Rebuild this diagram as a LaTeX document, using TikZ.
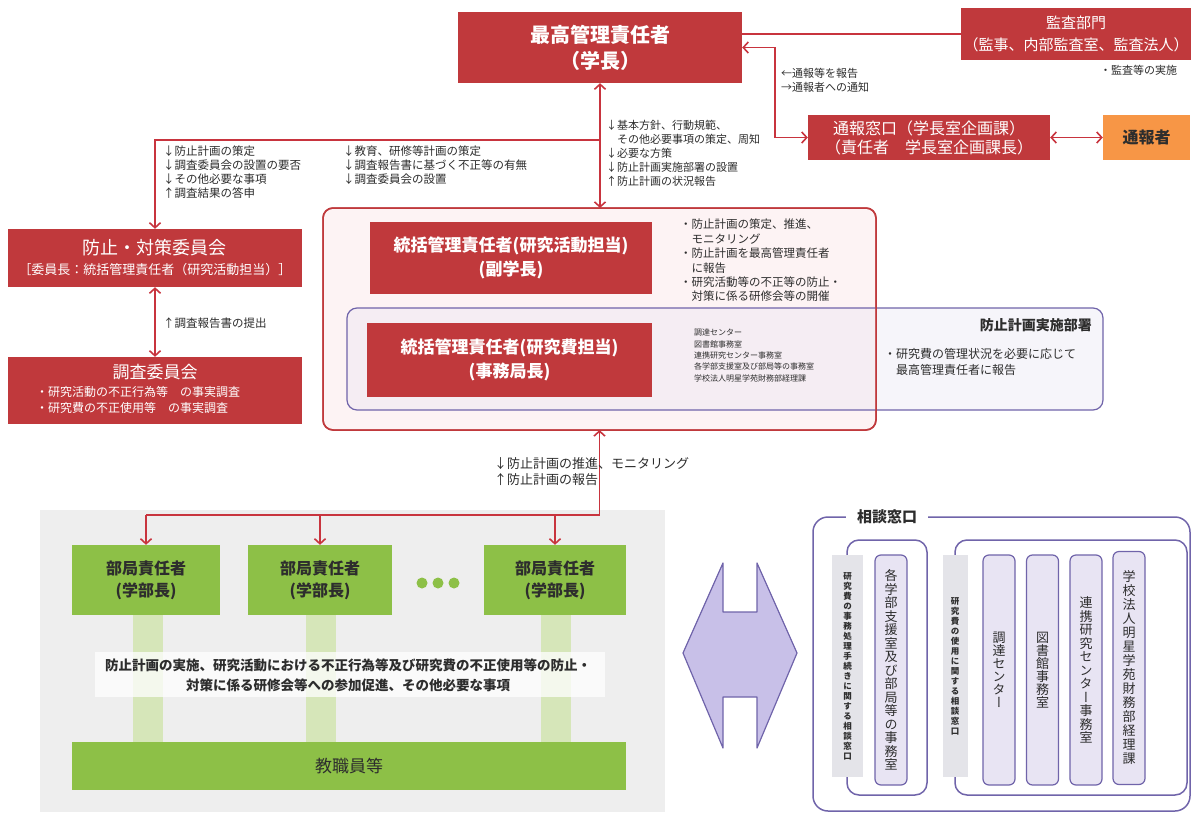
\documentclass[tikz,border=0pt]{standalone}
\usepackage{fontspec}
\setmainfont{Noto Sans CJK JP}
\newfontfamily\vjp[RawFeature=+vert]{Noto Sans CJK JP}
\usetikzlibrary{arrows.meta}
\newcommand\myfs[2]{\fontsize{#1}{#2}\selectfont}
\ExplSyntaxOn
\NewDocumentCommand \vtext { m m }
  {
    \vbox:n
      {
        \dim_set:Nn \baselineskip {#1}
        \dim_set:Nn \lineskiplimit { -\maxdimen }
        \tl_map_inline:nn {#2} { \hbox_to_wd:nn { 1em } { \hss ##1 \hss } }
      }
  }
\ExplSyntaxOff
\definecolor{cred}{RGB}{192,57,60}
\definecolor{carr}{RGB}{200,52,62}
\definecolor{txt}{RGB}{45,45,45}
\definecolor{cpink}{RGB}{253,243,244}
\definecolor{cpur}{RGB}{112,100,170}
\definecolor{clav}{RGB}{232,228,243}
\definecolor{cpurfill}{RGB}{200,192,232}
\definecolor{cgray}{RGB}{238,238,238}
\definecolor{cstrip}{RGB}{228,228,233}
\definecolor{cgreen}{RGB}{141,192,71}
\definecolor{clgreen}{RGB}{214,230,185}
\definecolor{corange}{RGB}{247,150,70}
\tikzset{
  redbox/.style={fill=cred, text=white, inner sep=0pt, align=center},
  greenbox/.style={fill=cgreen, text=txt, inner sep=0pt, align=center, font=\bfseries\myfs{16}{22}},
  labeltxt/.style={text=txt, align=left, inner sep=0pt, anchor=north west},
  cline/.style={draw=carr, line width=1.6pt},
  vtbox/.style={fill=clav, draw=cpur, line width=1.2pt, rounded corners=6pt, inner sep=0pt, text=txt, font=\vjp\myfs{13}{14}},
  vstrip/.style={fill=cstrip, inner sep=0pt, text=txt, font=\vjp\bfseries\myfs{8.5}{10}},
}
\begin{document}
\begin{tikzpicture}[x=1pt,y=-1pt, >={Straight Barb[length=5pt,width=11pt]}]
\useasboundingbox (0,0) rectangle (1192,814);
\fill[white] (0,0) rectangle (1192,814);

% ---- central big box and purple box
\node[draw=cred, line width=1.5pt, fill=cpink, rounded corners=10pt, outer sep=0pt, minimum width=553, minimum height=222] (cbox) at (599.5,319) {};
\node[draw=cpur, line width=1.2pt, fill=clav, fill opacity=0.35, rounded corners=10pt, minimum width=756, minimum height=102] (pbox) at (725,359) {};
\draw[cred, line width=1.5pt, rounded corners=10pt] (cbox.south west) rectangle (cbox.north east);

% ---- top
\node[redbox, minimum width=284, minimum height=71, font=\bfseries\myfs{20}{26}] (top) at (600,47.5) {最高管理責任者\\（学長）};
\node[redbox, minimum width=230, minimum height=52, font=\myfs{15}{22}] (audit) at (1076,34) {監査部門\\（監事、内部監査室、監査法人）};
\draw[cline] (audit.west) -- (audit.west -| top.east);
\node[labeltxt, font=\myfs{11}{14}] (audtxt) at (1100,65) {・監査等の実施};

\node[redbox, minimum width=242, minimum height=45, font=\myfs{16}{19}] (win) at (929,137.5) {通報窓口（学長室企画課）\\（責任者　学長室企画課長）};
\node[fill=corange, inner sep=0pt, minimum width=87, minimum height=45, font=\bfseries\myfs{16}{19}, text=txt] (wb) at (1146.5,137.5) {通報者};
\draw[cline,<->] (win.east) -- (wb.west);
\draw[cline,<->] (top.east) -- ++(33,0) |- (win.west);
\node[labeltxt, font=\myfs{11}{14}] (wlab) at (781,68) {←通報等を報告\\→通報者への通知};

% ---- vertical between top and center box
\draw[cline,<->] (top.south) -- (top.south |- cbox.north);
\node[labeltxt, font=\myfs{11}{14}] (clab) at (606,120) {↓基本方針、行動規範、\\　その他必要事項の策定、周知\\↓必要な方策\\↓防止計画実施部署の設置\\↑防止計画の状況報告};

% ---- committees
\node[redbox, minimum width=294, minimum height=58, font=\myfs{13}{17}] (comm) at (155,258) {{\myfs{18}{20}防止・対策委員会}\\[3pt]［委員長：統括管理責任者（研究活動担当）］};
\node[redbox, minimum width=294, minimum height=67] (inv) at (155,390.5) {};
\node[text=white, inner sep=0pt, font=\myfs{17}{20}] (invt) at (155,372) {調査委員会};
\node[text=white, inner sep=0pt, align=left, anchor=north west, font=\myfs{12}{16}] (invb) at (36,386) {・研究活動の不正行為等　の事実調査\\・研究費の不正使用等　の事実調査};
\coordinate (j1) at (top.south |- 0,140);
\draw[cline,->] (j1) -| (comm.north);
\draw[cline,<->] (comm.south) -- (inv.north);
\node[labeltxt, anchor=west, font=\myfs{11.5}{14}] (ilab) at (163,323) {↑調査報告書の提出};
\node[labeltxt, font=\myfs{11.5}{13.7}] (llab) at (163,146) {↓防止計画の策定\\↓調査委員会の設置の要否\\↓その他必要な事項\\↑調査結果の答申};
\node[labeltxt, font=\myfs{11.5}{13.7}] (mlab) at (343,146) {↓教育、研修等計画の策定\\↓調査報告書に基づく不正等の有無\\↓調査委員会の設置};

% ---- inside center box
\node[redbox, minimum width=282, minimum height=72, font=\bfseries\myfs{17}{24}] (ra) at (511,258) {統括管理責任者(研究活動担当)\\(副学長)};
\node[redbox, minimum width=285, minimum height=74, font=\bfseries\myfs{17}{24}] (rb) at (509.5,360) {統括管理責任者(研究費担当)\\(事務局長)};
\node[labeltxt, font=\myfs{11.5}{14.4}] (ralab) at (680,219) {・防止計画の策定、推進、\\　モニタリング\\・防止計画を最高管理責任者\\　に報告\\・研究活動等の不正等の防止・\\　対策に係る研修会等の開催};
\node[labeltxt, font=\myfs{8}{11.3}] (rblab) at (694,329) {調達センター\\図書館事務室\\連携研究センター事務室\\各学部支援室及び部局等の事務室\\学校法人明星学苑財務部経理課};
\node[text=txt, inner sep=0pt, anchor=east, font=\bfseries\myfs{14}{16}] (ptitle) at (1092,325) {防止計画実施部署};
\node[labeltxt, font=\myfs{12}{16}] (plab) at (884,348) {・研究費の管理状況を必要に応じて\\　最高管理責任者に報告};

% ---- bottom left panel
\fill[cgray] (40,510) rectangle (665,812);
\fill[clgreen] (133,615) rectangle (163,742);
\fill[clgreen] (306,615) rectangle (336,742);
\fill[clgreen] (541,615) rectangle (571,742);
\node[greenbox, minimum width=148, minimum height=70] (b1) at (146,580) {部局責任者\\(学部長)};
\node[greenbox, minimum width=144, minimum height=70] (b2) at (320,580) {部局責任者\\(学部長)};
\node[greenbox, minimum width=142, minimum height=70] (b3) at (555,580) {部局責任者\\(学部長)};
\fill[cgreen] (422,583) circle (5.5);
\fill[cgreen] (438,583) circle (5.5);
\fill[cgreen] (454,583) circle (5.5);
\fill[white, opacity=0.75] (95,652) rectangle (605,697);
\node[text=txt, inner sep=0pt, align=center, font=\bfseries\myfs{13.5}{20}] (band) at (348,675) {防止計画の実施、研究活動における不正行為等及び研究費の不正使用等の防止・\\対策に係る研修会等への参加促進、その他必要な事項};
\node[fill=cgreen, inner sep=0pt, minimum width=554, minimum height=48, font=\myfs{17}{20}, text=txt] (staff) at (349,766) {教職員等};

\coordinate (j2) at (cbox.south |- 0,515);
\draw[cline,->] (j2) -- (cbox.south);
\draw[cline] (j2) -- (j2 -| b1.north);
\draw[cline,->] (j2 -| b1.north) -- (b1.north);
\draw[cline,->] (j2 -| b2.north) -- (b2.north);
\draw[cline,->] (j2 -| b3.north) -- (b3.north);
\node[labeltxt, font=\myfs{13}{16}] (blab) at (494,457) {↓防止計画の推進、モニタリング\\↑防止計画の報告};

% ---- double arrow
\filldraw[fill=cpurfill, draw=cpur, line width=1.2pt, line join=round] (723,563) -- (723,612) -- (757,612) -- (757,563) -- (797,653) -- (757,748) -- (757,697) -- (723,697) -- (723,748) -- (683,653) -- cycle;

% ---- consultation
\draw[cpur, line width=1.5pt, rounded corners=15pt] (813,517) rectangle (1190,811);
\node[fill=white, inner xsep=11pt, inner ysep=2pt, text=txt, font=\bfseries\myfs{15}{18}] (sodan) at (887,517) {相談窓口};
\draw[cpur, line width=1.5pt, rounded corners=12pt] (847,540) rectangle (927,795);
\draw[cpur, line width=1.5pt, rounded corners=12pt] (955,540) rectangle (1187,795);
\node[vstrip, minimum width=31, minimum height=222] (s1) at (847.5,666) {\vtext{10pt}{研究費の事務処理手続きに関する相談窓口}};
\node[vstrip, minimum width=25, minimum height=222] (s2) at (955,666) {\vtext{10pt}{研究費の使用に関する相談窓口}};
\node[vtbox, minimum width=32, minimum height=230] (va) at (891,670) {\vtext{13.5pt}{各学部支援室及び部局等の事務室}};
\node[vtbox, minimum width=32, minimum height=230] (vb) at (999,670) {\vtext{13pt}{調達センター}};
\node[vtbox, minimum width=32, minimum height=230] (vc) at (1042.5,670) {\vtext{13pt}{図書館事務室}};
\node[vtbox, minimum width=32, minimum height=230] (vd) at (1086,670) {\vtext{13.5pt}{連携研究センター事務室}};
\node[vtbox, minimum width=32, minimum height=233] (ve) at (1129,668) {\vtext{14pt}{学校法人明星学苑財務部経理課}};
\end{tikzpicture}
\end{document}
